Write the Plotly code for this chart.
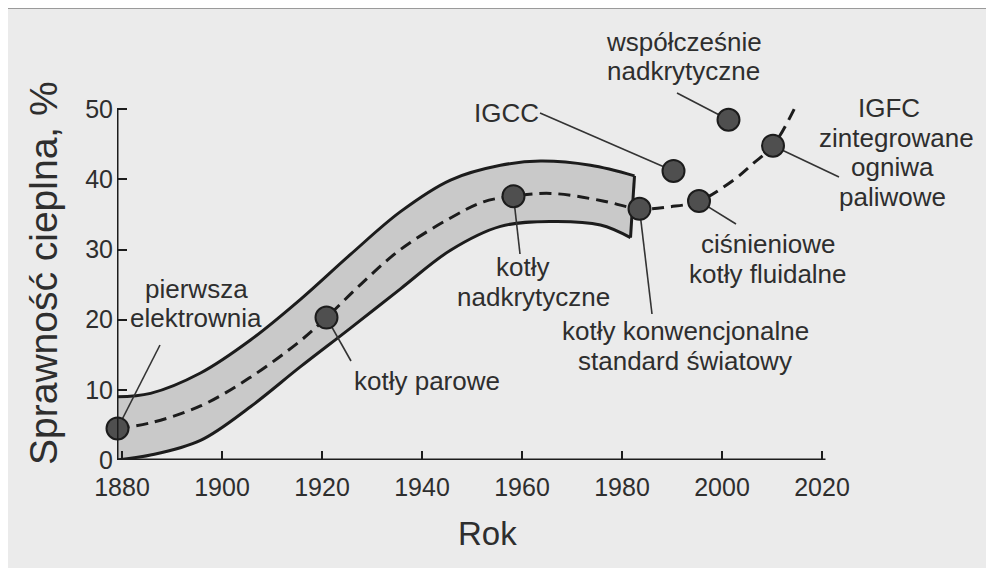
import plotly.graph_objects as go

# ---------------- data ----------------
upper_years = [1879.0, 1885.7, 1895.7, 1905.7, 1915.7, 1925.7, 1935.7, 1945.7, 1955.7, 1963.7, 1973.7, 1982.5]
upper_vals = [9.0, 9.5, 12.4, 17.1, 22.9, 29.3, 35.4, 39.9, 42.0, 42.6, 42.0, 40.5]

lower_years = [1879.0, 1885.7, 1895.7, 1905.7, 1915.7, 1925.7, 1935.7, 1945.7, 1955.7, 1965.7, 1975.7, 1981.7]
lower_vals = [0.0, 0.7, 2.8, 7.6, 13.3, 18.8, 24.4, 29.9, 33.3, 34.0, 33.5, 31.7]

trend_years = [1879.1, 1885.7, 1895.7, 1905.7, 1915.7, 1920.9, 1927.7, 1935.7, 1945.7, 1952.3,
               1958.3, 1965.7, 1975.7, 1983.5, 1989.7, 1995.4, 2002.3, 2006.3, 2010.2, 2014.5]
trend_vals = [4.5, 5.3, 7.7, 11.8, 17.0, 20.3, 25.0, 30.0, 34.5, 36.8,
              37.6, 38.0, 37.0, 35.8, 36.1, 36.9, 39.9, 42.3, 44.8, 50.1]

point_names = ["pierwsza", "parowe", "nadkryt", "konw", "cisn", "igfc", "igcc", "wspol"]
point_years = [1879.1, 1920.9, 1958.3, 1983.5, 1995.4, 2010.2, 1990.3, 2001.3]
point_vals = [4.5, 20.3, 37.6, 35.8, 36.9, 44.8, 41.2, 48.5]

x_ticks = [1880, 1900, 1920, 1940, 1960, 1980, 2000, 2020]
y_ticks = [0, 10, 20, 30, 40, 50]

# label blocks: lines of text, block centre (screen px)
label_blocks = [
    (["pierwsza", "elektrownia"], 196, 303.5),
    (["kotły parowe"], 427, 381),
    (["kotły", "nadkrytyczne"], 527, 282),
    (["kotły konwencjonalne", "standard światowy"], 685, 346),
    (["ciśnieniowe", "kotły fluidalne"], 768, 259),
    (["IGFC", "zintegrowane", "ogniwa", "paliwowe"], 892, 152.5),
    (["IGCC"], 506, 113),
    (["współcześnie", "nadkrytyczne"], 683.5, 56.5),
]
line_x_shift = {"kotły": -5, "nadkrytyczne": 6, "IGFC": -3, "zintegrowane": 4}

# ---------------- layout geometry ----------------
OFF = 8                      # page offset of the figure inside the browser window
W, H = 994, 568
L, B, T = 109, 116, 17
X0, X1 = 1879.0, 2036.0
Y0, Y1 = 0.0, 62.0
PW = 785
PH = H - B - T
R = W - L - PW
XAXIS_END = 2020.7
LINE_GAP = 29.5


def px2x(px):
    return X0 + (px - OFF - L) / PW * (X1 - X0)


def py2y(py):
    return Y0 + (H - B - (py - OFF)) / PH * (Y1 - Y0)


def px2paper(px):
    return (px - OFF - L) / PW


def py2paper(py):
    return (H - B - (py - OFF)) / PH


FONT = "Liberation Sans, Arial, sans-serif"
TXT = "#2e2e2e"
INK = "#1c1c1c"

fig = go.Figure()

# band: lower edge then upper edge filled to it
fig.add_trace(go.Scatter(x=lower_years, y=lower_vals, mode="lines",
                         line=dict(color=INK, width=3, shape="spline"),
                         hoverinfo="skip", showlegend=False))
fig.add_trace(go.Scatter(x=upper_years, y=upper_vals, mode="lines", fill="tonexty",
                         fillcolor="#c9c9c9",
                         line=dict(color=INK, width=3, shape="spline"),
                         hoverinfo="skip", showlegend=False))
# closing edge on the right end of the band
fig.add_trace(go.Scatter(x=[upper_years[-1], lower_years[-1]], y=[upper_vals[-1], lower_vals[-1]],
                         mode="lines", line=dict(color=INK, width=3),
                         hoverinfo="skip", showlegend=False))

# dashed trend
fig.add_trace(go.Scatter(x=trend_years, y=trend_vals, mode="lines",
                         line=dict(color=INK, width=3, dash="12px,7px", shape="spline"),
                         hoverinfo="skip", showlegend=False))

# leader line end points (screen pixel positions on the label side)
leader_end = {
    "pierwsza": (160, 345),
    "parowe": (351, 361),
    "nadkryt": (520, 254),
    "konw": (652, 314),
    "cisn": (736, 224),
    "igfc": (839, 177),
    "igcc": (540, 113),
    "wspol": (677, 93),
}
for name, yr, v in zip(point_names, point_years, point_vals):
    ex, ey = leader_end[name]
    fig.add_trace(go.Scatter(x=[yr, px2x(ex)], y=[v, py2y(ey)], mode="lines",
                             line=dict(color="#333333", width=1.6),
                             hoverinfo="skip", showlegend=False))

# markers
fig.add_trace(go.Scatter(x=point_years, y=point_vals, mode="markers", cliponaxis=False,
                         marker=dict(size=22, color="#4f4f4f", line=dict(color=INK, width=2)),
                         hoverinfo="skip", showlegend=False))

annotations = []
for lines, cx, cy in label_blocks:
    n = len(lines)
    for i, t in enumerate(lines):
        ly = cy + (i - (n - 1) / 2) * LINE_GAP
        lx = cx + (line_x_shift.get(t, 0) if n == 2 and lines[0] == "kotły" or t in ("IGFC", "zintegrowane") else 0)
        annotations.append(dict(text=t, x=px2paper(lx), y=py2paper(ly), xref="paper", yref="paper",
                                xanchor="center", yanchor="middle", showarrow=False,
                                font=dict(family=FONT, size=26, color=TXT)))
annotations.append(dict(text="Sprawność cieplna, %", x=px2paper(43), y=py2paper(273),
                        xref="paper", yref="paper", xanchor="center", yanchor="middle",
                        textangle=-90, showarrow=False,
                        font=dict(family=FONT, size=39, color=TXT)))
annotations.append(dict(text="Rok", x=px2paper(487), y=py2paper(533),
                        xref="paper", yref="paper", xanchor="center", yanchor="middle",
                        showarrow=False, font=dict(family=FONT, size=33, color=TXT)))

shapes = [
    # outer frame
    dict(type="rect", xref="paper", yref="paper", layer="below",
         x0=px2paper(6), x1=px2paper(1010), y0=py2paper(590), y1=py2paper(8),
         fillcolor="#ebebeb", line=dict(color="#9a9a9a", width=2)),
    # axis lines
    dict(type="line", xref="x", yref="y", x0=X0, x1=X0, y0=0, y1=50,
         line=dict(color=INK, width=3)),
    dict(type="line", xref="x", yref="y", x0=X0, x1=XAXIS_END, y0=0, y1=0,
         line=dict(color=INK, width=3)),
]

fig.update_layout(
    width=W, height=H,
    margin=dict(l=L, r=R, t=T, b=B, pad=0),
    paper_bgcolor="white", plot_bgcolor="rgba(0,0,0,0)",
    showlegend=False,
    annotations=annotations, shapes=shapes,
    xaxis=dict(range=[X0, X1], showgrid=False, zeroline=False, showline=False,
               tickmode="array", tickvals=x_ticks, ticktext=[str(v) for v in x_ticks],
               ticks="inside", ticklen=9, tickwidth=2, tickcolor=INK, ticklabelstandoff=10,
               tickfont=dict(family=FONT, size=25, color=TXT), fixedrange=True),
    yaxis=dict(range=[Y0, Y1], showgrid=False, zeroline=False, showline=False,
               tickmode="array", tickvals=y_ticks, ticktext=[str(v) for v in y_ticks],
               ticks="inside", ticklen=10, tickwidth=2, tickcolor=INK, ticklabelstandoff=3,
               tickfont=dict(family=FONT, size=25, color=TXT), fixedrange=True),
)

fig.write_html("out.html")
